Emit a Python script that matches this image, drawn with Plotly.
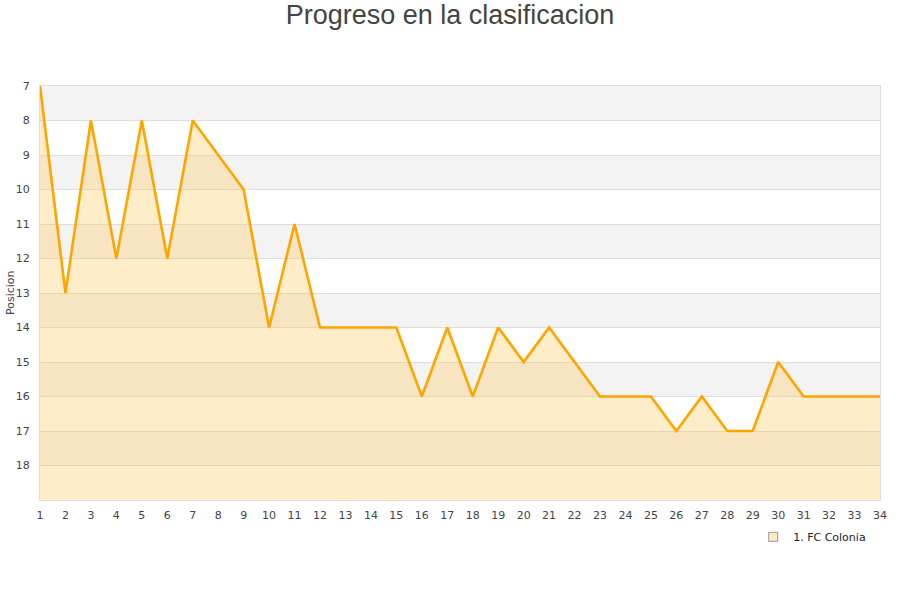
import plotly.graph_objects as go

jornadas = list(range(1, 35))
posiciones = [7, 13, 8, 12, 8, 12, 8, 9, 10, 14, 11, 14, 14, 14, 14, 16, 14, 16, 14, 15,
              14, 15, 16, 16, 16, 17, 16, 17, 17, 15, 16, 16, 16, 16]
equipo = "1. FC Colonia"
y_titulo = "Posicion"
titulo = "Progreso en la clasificacion"
y_ticks = list(range(7, 19))
y_min, y_max = 7, 19

fig = go.Figure()

# base line for filling down to the bottom of the (reversed) axis
fig.add_trace(go.Scatter(x=jornadas, y=[y_max] * len(jornadas), mode="lines",
                         line=dict(width=0), showlegend=False, hoverinfo="skip"))
fig.add_trace(go.Scatter(x=jornadas, y=posiciones, mode="lines", name=equipo,
                         line=dict(color="#FFA500", width=2.6), showlegend=False,
                         fill="tonexty", fillcolor="rgba(255,196,85,0.32)"))
# legend entry (square swatch)
fig.add_trace(go.Scatter(x=[None], y=[None], mode="markers", name=equipo,
                         marker=dict(symbol="square", size=9, color="#ffe9c4",
                                     line=dict(color="#999999", width=1))))

shapes = []
for i, t in enumerate(range(y_min, y_max)):
    if i % 2 == 0:
        shapes.append(dict(type="rect", xref="paper", yref="y", x0=0, x1=1, y0=t, y1=t + 1,
                           fillcolor="#f3f3f3", line=dict(width=0), layer="below"))

fig.update_layout(
    width=900, height=600,
    paper_bgcolor="white", plot_bgcolor="white",
    title=dict(text=titulo, x=0.5, xanchor="center",
               y=1 - 15 / 600, yanchor="middle",
               font=dict(family="Liberation Sans, Arial", size=27, color="#444444")),
    margin=dict(l=40, r=20, t=86, b=100, autoexpand=False),
    shapes=shapes,
    annotations=[dict(text=y_titulo, textangle=-90, xref="paper", yref="paper",
                      x=(10 - 40) / 840, y=0.5, xanchor="center", yanchor="middle",
                      showarrow=False, font=dict(size=11, color="#444444"))],
    showlegend=True,
    legend=dict(x=0.849, xanchor="left", y=-0.089, yanchor="middle", orientation="h",
                font=dict(family="DejaVu Sans", size=11, color="#222222"),
                bgcolor="rgba(0,0,0,0)"),
    font=dict(family="DejaVu Sans", size=11, color="#444444"),
)
fig.update_xaxes(range=[1, 34], tickmode="array", tickvals=jornadas, showgrid=False,
                 zeroline=False, showline=True, linecolor="#dddddd", mirror=True,
                 ticks="", tickfont=dict(size=11, color="#444444"), automargin=False,
                 ticklabelstandoff=5)
fig.update_yaxes(range=[y_max, y_min], tickmode="array", tickvals=y_ticks, showgrid=True,
                 gridcolor="#dddddd", zeroline=False, showline=True, linecolor="#dddddd",
                 mirror=True, ticks="", tickfont=dict(size=11, color="#444444"),
                 automargin=False, ticklabelstandoff=7)

fig.write_html("out.html", post_script="document.body.style.margin='0';",
               config={"displayModeBar": False})
